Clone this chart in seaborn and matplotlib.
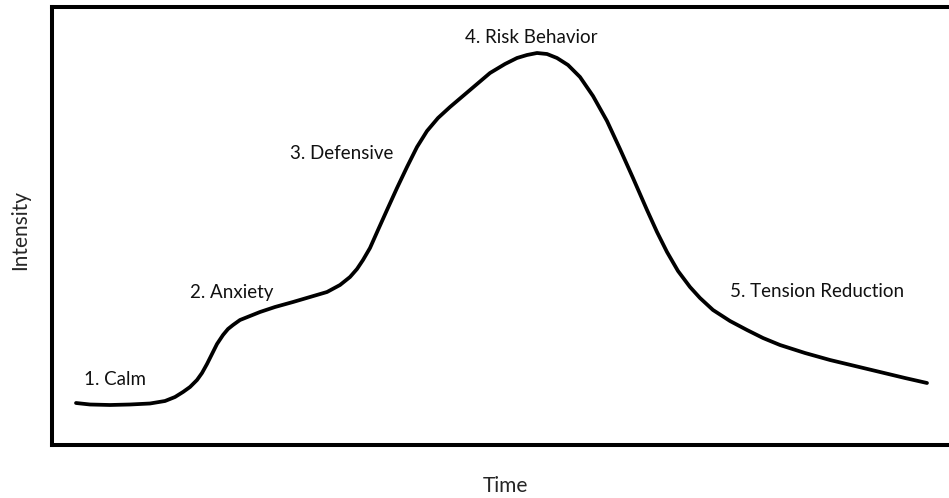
import pandas as pd
import matplotlib
matplotlib.use("Agg")
import matplotlib.pyplot as plt
import seaborn as sns

# curve: time (px from left) and intensity (px above frame bottom)
time = [76, 90, 110, 130, 150, 165, 175, 183, 190, 197, 202, 207, 212, 217,
        223, 228, 233, 240, 250, 260, 275, 293, 310, 327, 340, 350, 357, 363,
        370, 378, 387, 397, 407, 417, 427, 438, 450, 470, 490, 505, 517, 527,
        537, 547, 557, 568, 580, 593, 607, 620, 633, 647, 657, 667, 678,
        690, 700, 713, 730, 747, 763, 780, 805, 830, 855, 880, 905, 927]
pixel_y = [403, 404.5, 405, 404.5, 403.5, 401, 397, 392, 387, 380, 373, 364,
           354, 344, 335, 329, 325, 320, 316, 312, 307, 302, 297, 292, 285,
           277, 269, 260, 248, 230, 210, 188, 167, 147, 131, 118, 107, 90, 73,
           64, 58, 55, 53, 54, 58, 65, 77, 96, 121, 149, 178, 210, 232,
           252, 271, 287, 298, 310, 321, 330, 338, 345, 353, 360, 366, 372,
           378, 383]
intensity = [445 - v for v in pixel_y]

stage_labels = ["1. Calm", "2. Anxiety", "3. Defensive", "4. Risk Behavior",
                "5. Tension Reduction"]
stage_x = [84, 190, 290, 465, 730]
stage_y = [445 - v for v in [379, 292, 153, 37, 291]]

df = pd.DataFrame({"Time": time, "Intensity": intensity})

sns.set_style("white")
plt.rcParams["font.family"] = ["Lato", "DejaVu Sans"]

fig = plt.figure(figsize=(9.49, 4.98), dpi=100)
ax = fig.add_axes([51.5 / 949, (498 - 445) / 498, (962 - 51.5) / 949, 438 / 498])

sns.lineplot(data=df, x="Time", y="Intensity", color="black", linewidth=2.7,
             sort=False, ax=ax, solid_capstyle="round", solid_joinstyle="round")

for label, x, y in zip(stage_labels, stage_x, stage_y):
    ax.text(x, y, label, fontsize=13.5, color="#111111", ha="left", va="center")

ax.set_xlim(51.5, 962)
ax.set_ylim(0, 438)
ax.set_xticks([])
ax.set_yticks([])
ax.set_xlabel("")
ax.set_ylabel("")
for side in ax.spines.values():
    side.set_color("black")
    side.set_linewidth(2.9)

fig.text(505 / 949, 1 - 486 / 498, "Time", fontsize=15, ha="center", va="center")
fig.text(20 / 949, 1 - 230 / 498, "Intensity", fontsize=15, rotation=90,
         ha="center", va="center")

fig.savefig("out.png", dpi=100)
